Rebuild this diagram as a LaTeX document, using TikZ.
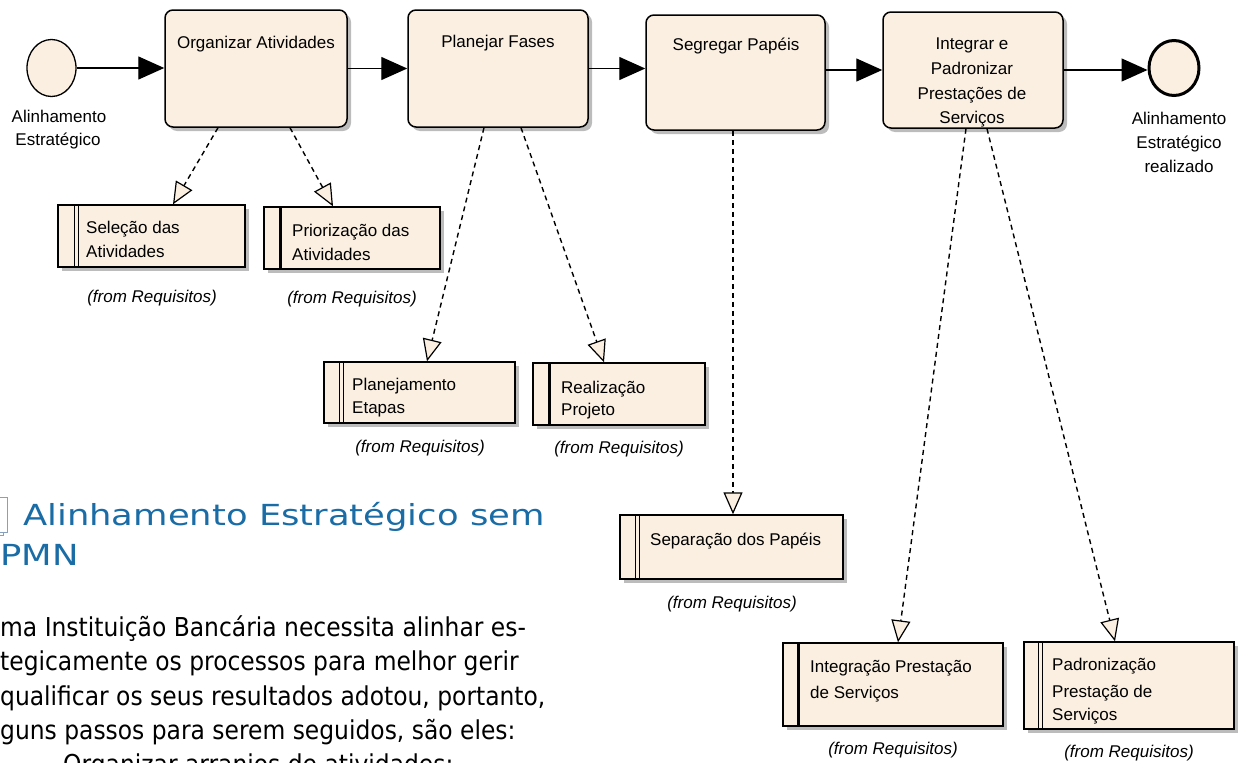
\documentclass[tikz,border=0pt]{standalone}
\usepackage{fontspec}
\setmainfont{Liberation Sans}
\newfontfamily\titlefont[FakeStretch=1.22]{DejaVu Sans}
\newfontfamily\parafont[FakeStretch=0.9]{DejaVu Sans}
\usetikzlibrary{arrows.meta,shadows,shapes.geometric,calc}
\definecolor{cream}{RGB}{250,239,224}
\definecolor{titleblue}{RGB}{25,108,165}
\definecolor{shadowgray}{RGB}{188,188,188}
\definecolor{icongray}{RGB}{135,160,190}
\newcommand\diafont{\fontsize{17}{20}\selectfont}
\begin{document}
\begin{tikzpicture}[x=1pt,y=-1pt,
  shad/.style={drop shadow={shadow xshift=4pt,shadow yshift=-4pt,fill=shadowgray,opacity=1}},
  task/.style={draw,line width=1.5pt,rounded corners=8pt,fill=cream,shad,inner sep=0pt},
  req/.style={draw,line width=1.4pt,fill=cream,shad,inner sep=0pt},
  event/.style={ellipse,draw,fill=cream,inner sep=0pt},
  dtext/.style={inner sep=0pt,font=\diafont},
  ftext/.style={inner sep=0pt,font=\diafont\itshape},
  flow/.style={line width=1.4pt,-{Triangle[length=26pt,width=23pt]}},
  assoc/.style={line width=1.4pt,dash pattern=on 5pt off 4pt,-{Triangle[length=22pt,width=19pt,fill=cream,line width=1.2pt]}},
  dbar/.style={line width=1pt},
  tbar/.style={line width=3pt},
  ptext/.style={inner sep=0pt,anchor=base west,font=\parafont\fontsize{26}{30}\selectfont}
]
\useasboundingbox (0,0) rectangle (1243,763);
\clip (0,0) rectangle (1243,763);

% events
\node[event,line width=1.3pt,minimum width=49pt,minimum height=57pt] (start) at (51.5,68) {};
\node[dtext,anchor=base] (startl1) at (59,122) {Alinhamento};
\node[dtext,anchor=base] (startl2) at (58,145) {Estratégico};
\node[event,line width=3pt,minimum width=50pt,minimum height=55pt] (end) at (1174,68) {};
\node[dtext,anchor=base] (endl1) at (1179,124) {Alinhamento};
\node[dtext,anchor=base] (endl2) at (1179,148) {Estratégico};
\node[dtext,anchor=base] (endl3) at (1179,172) {realizado};

% tasks
\node[task,minimum width=182pt,minimum height=117pt] (b1) at (256,68.5) {};
\node[dtext,anchor=base] (b1t) at (256,48) {Organizar Atividades};
\node[task,minimum width=180pt,minimum height=117pt] (b2) at (498,68.5) {};
\node[dtext,anchor=base] (b2t) at (498,47) {Planejar Fases};
\node[task,minimum width=179pt,minimum height=115pt] (b3) at (735.5,72.5) {};
\node[dtext,anchor=base] (b3t) at (736,50) {Segregar Papéis};
\node[task,minimum width=180pt,minimum height=116pt] (b4) at (973,70) {};
\node[dtext,anchor=base] (b4t1) at (972,49) {Integrar e};
\node[dtext,anchor=base] (b4t2) at (972,74) {Padronizar};
\node[dtext,anchor=base] (b4t3) at (972,99) {Prestações de};
\node[dtext,anchor=base] (b4t4) at (972,123) {Serviços};

% flows
\draw[flow] (start.east) -- (start.east -| b1.west);
\draw[flow] (b1.east) -- (b2.west);
\draw[flow] (b2.east) -- (b2.east -| b3.west);
\draw[flow] (b4.west -| b3.east) -- (b4.west);
\draw[flow] (b4.east) -- (b4.east -| end.west);

% requirement boxes
\node[req,minimum width=187pt,minimum height=62pt] (r1) at (151.5,236) {};
\draw[dbar] ([xshift=17pt]r1.north west) -- ([xshift=17pt]r1.south west);
\draw[dbar] ([xshift=21pt]r1.north west) -- ([xshift=21pt]r1.south west);
\node[dtext,anchor=base west] (r1t1) at (86,233) {Seleção das};
\node[dtext,anchor=base west] (r1t2) at (86,257) {Atividades};
\node[ftext,anchor=base] (r1f) at (152,302) {(from Requisitos)};

\node[req,minimum width=176pt,minimum height=62pt] (r2) at (352,238) {};
\draw[tbar] ([xshift=17pt]r2.north west) -- ([xshift=17pt]r2.south west);
\node[dtext,anchor=base west] (r2t1) at (292,236) {Priorização das};
\node[dtext,anchor=base west] (r2t2) at (292,260) {Atividades};
\node[ftext,anchor=base] (r2f) at (352,303) {(from Requisitos)};

\node[req,minimum width=191pt,minimum height=61pt] (r3) at (419.5,392.5) {};
\draw[dbar] ([xshift=16pt]r3.north west) -- ([xshift=16pt]r3.south west);
\draw[dbar] ([xshift=20pt]r3.north west) -- ([xshift=20pt]r3.south west);
\node[dtext,anchor=base west] (r3t1) at (352,390) {Planejamento};
\node[dtext,anchor=base west] (r3t2) at (352,413) {Etapas};
\node[ftext,anchor=base] (r3f) at (420,452) {(from Requisitos)};

\node[req,minimum width=172pt,minimum height=62pt] (r4) at (619,394) {};
\draw[tbar] ([xshift=17pt]r4.north west) -- ([xshift=17pt]r4.south west);
\node[dtext,anchor=base west] (r4t1) at (561,393) {Realização};
\node[dtext,anchor=base west] (r4t2) at (561,415) {Projeto};
\node[ftext,anchor=base] (r4f) at (619,453) {(from Requisitos)};

\node[req,minimum width=223pt,minimum height=64pt] (r5) at (731.5,547) {};
\draw[dbar] ([xshift=16pt]r5.north west) -- ([xshift=16pt]r5.south west);
\draw[dbar] ([xshift=20pt]r5.north west) -- ([xshift=20pt]r5.south west);
\node[dtext,anchor=base west] (r5t1) at (650,545) {Separação dos Papéis};
\node[ftext,anchor=base] (r5f) at (732,608) {(from Requisitos)};

\node[req,minimum width=220pt,minimum height=83pt] (r6) at (893,684.5) {};
\draw[tbar] ([xshift=16pt]r6.north west) -- ([xshift=16pt]r6.south west);
\node[dtext,anchor=base west] (r6t1) at (810,672) {Integração Prestação};
\node[dtext,anchor=base west] (r6t2) at (810,698) {de Serviços};
\node[ftext,anchor=base] (r6f) at (893,754) {(from Requisitos)};

\node[req,minimum width=210pt,minimum height=87pt] (r7) at (1129,685.5) {};
\draw[dbar] ([xshift=15pt]r7.north west) -- ([xshift=15pt]r7.south west);
\draw[dbar] ([xshift=19pt]r7.north west) -- ([xshift=19pt]r7.south west);
\node[dtext,anchor=base west] (r7t1) at (1052,670) {Padronização};
\node[dtext,anchor=base west] (r7t2) at (1052,697) {Prestação de};
\node[dtext,anchor=base west] (r7t3) at (1052,720) {Serviços};
\node[ftext,anchor=base] (r7f) at (1129,757) {(from Requisitos)};

% associations
\draw[assoc] ([xshift=-38pt]b1.south) -- ([xshift=21.5pt]r1.north);
\draw[assoc] ([xshift=34pt]b1.south) -- ([xshift=-19pt]r2.north);
\draw[assoc] ([xshift=-14pt]b2.south) -- ([xshift=7.5pt]r3.north);
\draw[assoc] ([xshift=23pt]b2.south) -- ([xshift=-15pt]r4.north);
\draw[assoc] ([xshift=-2.5pt]b3.south) -- ([xshift=1.5pt]r5.north);
\draw[assoc] ([xshift=-7pt]b4.south) -- ([xshift=5pt]r6.north);
\draw[assoc] ([xshift=14pt]b4.south) -- ([xshift=-14pt]r7.north);

% page text
\draw[icongray,line width=1pt,fill=white] (-16,500) rectangle (3,535);
\draw[icongray,line width=1pt,fill=white] (-12,497) rectangle (7,532);
\node[inner sep=0pt,anchor=base west,text=titleblue,font=\titlefont\fontsize{29}{34}\selectfont] (title1) at (23,525) {Alinhamento Estratégico sem};
\node[inner sep=0pt,anchor=base west,text=titleblue,font=\titlefont\fontsize{29}{34}\selectfont] (title2) at (0,565) {PMN};
\node[ptext] (p1) at (0,636) {ma Instituição Bancária necessita alinhar es-};
\node[ptext] (p2) at (0,670) {tegicamente os processos para melhor gerir};
\node[ptext] (p3) at (0,705) {qualificar os seus resultados adotou, portanto,};
\node[ptext] (p4) at (0,739) {guns passos para serem seguidos, são eles:};
\node[ptext] (p5) at (63,773) {Organizar arranjos de atividades;};
\end{tikzpicture}
\end{document}
